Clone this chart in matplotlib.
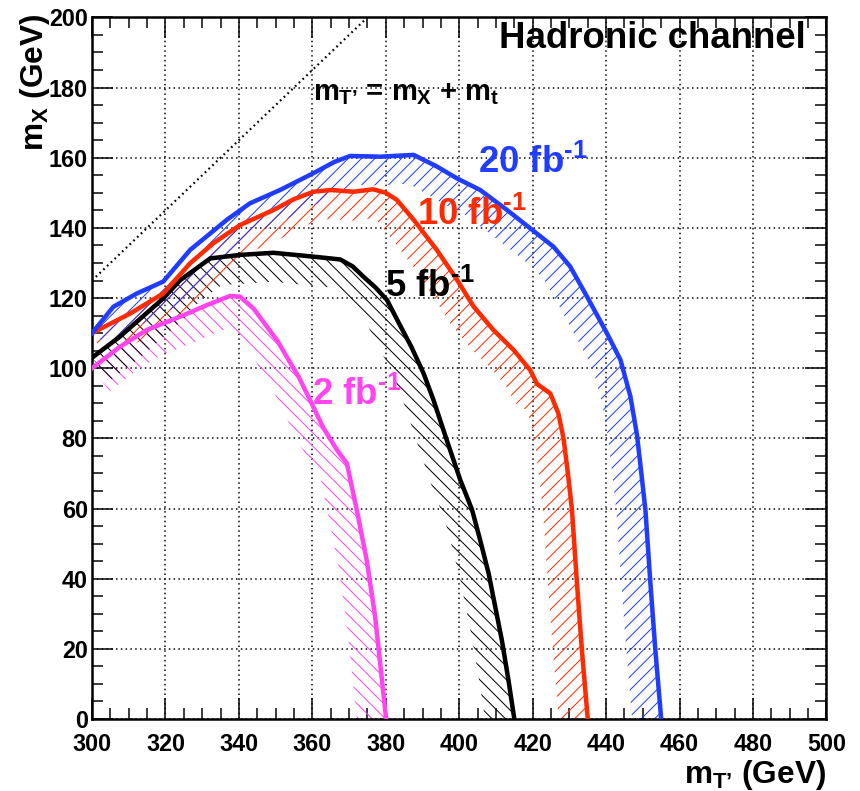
import numpy as np
import matplotlib
matplotlib.use("Agg")
import matplotlib.pyplot as plt
from matplotlib.ticker import MultipleLocator

plt.rcParams['font.family'] = ['Liberation Sans', 'DejaVu Sans']
plt.rcParams['font.weight'] = 'bold'
plt.rcParams['mathtext.fontset'] = 'custom'
plt.rcParams['mathtext.rm'] = 'Liberation Sans:bold'
plt.rcParams['mathtext.it'] = 'Liberation Sans:bold'
plt.rcParams['mathtext.bf'] = 'Liberation Sans:bold'
plt.rcParams['mathtext.sf'] = 'Liberation Sans:bold'
plt.rcParams['hatch.linewidth'] = 0.6

# Expected 95% CL exclusion contours in the (m_T', m_X) plane
lumi_labels = ["20 fb$^{\\text{-}1}$", "10 fb$^{\\text{-}1}$",
               "5 fb$^{\\text{-}1}$", "2 fb$^{\\text{-}1}$"]

mT_20 = [300, 305.8, 312.2, 319.4, 326.7, 336.7, 343.0, 351.2, 360.3, 366.0, 370.3,
         378.5, 387.6, 393.9, 399.4, 405.7, 413.0, 419.3, 425.7, 430.2, 434.8,
         440.2, 443.9, 446.6, 448.4, 449.6, 450.7, 452.0, 453.4, 455.0]
mX_20 = [110, 117.5, 121.3, 124.7, 133.7, 142.3, 147.0, 150.8, 155.6, 158.8, 160.5,
         160.3, 160.8, 157.5, 154.1, 150.8, 145.1, 139.9, 134.6, 129.0, 120.4,
         110.0, 102.4, 92.0, 81.0, 70.0, 59.6, 39.6, 19.7, 0]

mT_10 = [300, 310.4, 319.4, 326.7, 333.0, 340.3, 349.4, 355.0, 360.3, 365.0, 371.2,
         376.6, 380.0, 383.0, 387.6, 393.9, 399.4, 403.9, 409.3, 414.8, 419.3,
         421.2, 424.8, 427.0, 428.4, 429.6, 430.7, 432.0, 433.4, 435.0]
mX_10 = [110, 115.6, 121.3, 129.9, 135.6, 140.8, 145.1, 148.2, 150.3, 150.8, 150.3,
         151.0, 150.0, 148.0, 142.3, 133.7, 125.2, 117.6, 110.9, 105.2, 99.5,
         95.5, 92.8, 87.1, 80.0, 70.0, 59.6, 39.6, 19.7, 0]

mT_5 = [300, 307.6, 319.4, 324.0, 332.2, 340.3, 349.4, 360.3, 367.6, 371.0, 373.9,
        377.2, 380.3, 383.5, 387.0, 390.3, 393.0, 396.6, 400.3, 403.5, 405.7,
        408.0, 409.8, 411.6, 413.4, 415.0]
mX_5 = [103, 109.0, 119.9, 125.1, 131.3, 132.3, 132.9, 131.8, 131.0, 129.0, 126.1,
        123.0, 119.5, 113.0, 106.0, 98.5, 90.9, 79.5, 68.1, 59.6, 51.0,
        41.5, 32.0, 22.5, 11.1, 0]

mT_2 = [300, 307.6, 314.9, 324.0, 331.3, 337.6, 340.3, 344.0, 347.6, 350.5, 353.0,
        356.3, 359.4, 363.0, 366.7, 369.4, 372.1, 374.8, 377.1, 380.1]
mX_2 = [100, 106.1, 110.9, 114.7, 118.0, 120.6, 120.4, 117.0, 111.9, 107.8, 103.3,
        97.5, 90.9, 83.0, 76.7, 72.9, 59.6, 45.3, 29.2, 0]

m_top = 175.0
diag_mT = np.array([300.0, 375.0])

DPI = 120
fig = plt.figure(figsize=(860 / DPI, 791 / DPI), dpi=DPI)
ax = fig.add_axes([0.107, 0.091, 0.854, 0.887])
ax.set_xlim(300, 500)
ax.set_ylim(0, 200)

ax.xaxis.set_major_locator(MultipleLocator(20))
ax.xaxis.set_minor_locator(MultipleLocator(5))
ax.yaxis.set_major_locator(MultipleLocator(20))
ax.yaxis.set_minor_locator(MultipleLocator(5))
ax.tick_params(which='both', direction='in', top=True, right=True, width=0.9,
               labelsize=14)
ax.tick_params(which='major', length=12.6)
ax.tick_params(which='minor', length=6.6)
ax.tick_params(axis='x', pad=8.5)
ax.tick_params(axis='y', pad=2.5)
for lbl in ax.get_xticklabels() + ax.get_yticklabels():
    lbl.set_fontweight('bold')
for sp in ax.spines.values():
    sp.set_linewidth(1.5)
ax.grid(True, which='major', color='black', linestyle=(0, (1, 2.2)), linewidth=0.9)
ax.set_axisbelow(True)


def hatched_band(xs, ys, color, hatch, width_px=29):
    """Hatched strip on the excluded (inner) side of a contour."""
    pts = ax.transData.transform(np.column_stack([xs, ys]))
    d = np.gradient(pts, axis=0)
    n = np.column_stack([d[:, 1], -d[:, 0]])
    n /= np.linalg.norm(n, axis=1)[:, None]
    inner = pts + width_px * n
    poly = ax.transData.inverted().transform(np.vstack([pts, inner[::-1]]))
    ax.fill(poly[:, 0], poly[:, 1], facecolor='none', edgecolor=color,
            hatch=hatch, linewidth=0, zorder=2)


curves = [
    (mT_2, mX_2, '#ff44f0', '\\\\\\'),
    (mT_5, mX_5, '#000000', '\\\\\\'),
    (mT_10, mX_10, '#ff2a00', '///'),
    (mT_20, mX_20, '#1f3cff', '///'),
]
for xs, ys, c, h in curves:
    hatched_band(xs, ys, c, h)
for xs, ys, c, h in curves:
    ax.plot(xs, ys, color=c, linewidth=2.7, zorder=3, solid_joinstyle='round')

ax.plot(diag_mT, diag_mT - m_top, color='black', linestyle=(0, (0.8, 1.6)),
        linewidth=1.3, zorder=2)

label_pos = [(405.2, 155.7, '#1f3cff'), (388.6, 140.8, '#ff2a00'),
             (379.8, 120.3, '#000000'), (359.9, 89.5, '#ff44f0')]
for txt, (x, y, c) in zip(lumi_labels, label_pos):
    ax.text(x, y, txt, color=c, fontsize=22, fontweight='bold',
            ha='left', va='baseline', zorder=5)

ax.text(494.3, 191.3, "Hadronic channel", fontsize=22, fontweight='bold',
        ha='right', va='baseline')
ax.text(360.2, 176.3, "$m_{T\u2019}$ = $m_{X}$ + $m_{t}$", fontsize=17.5,
        fontweight='bold', ha='left', va='baseline')

ax.text(1.0, -0.0912, "$m_{T\u2019}$ (GeV)", transform=ax.transAxes,
        fontsize=19, fontweight='bold', ha='right', va='baseline')
ax.text(-0.078, 1.005, "$m_{X}$ (GeV)", transform=ax.transAxes, rotation=90,
        fontsize=19, fontweight='bold', ha='center', va='top')

fig.savefig("out.png", dpi=DPI)
